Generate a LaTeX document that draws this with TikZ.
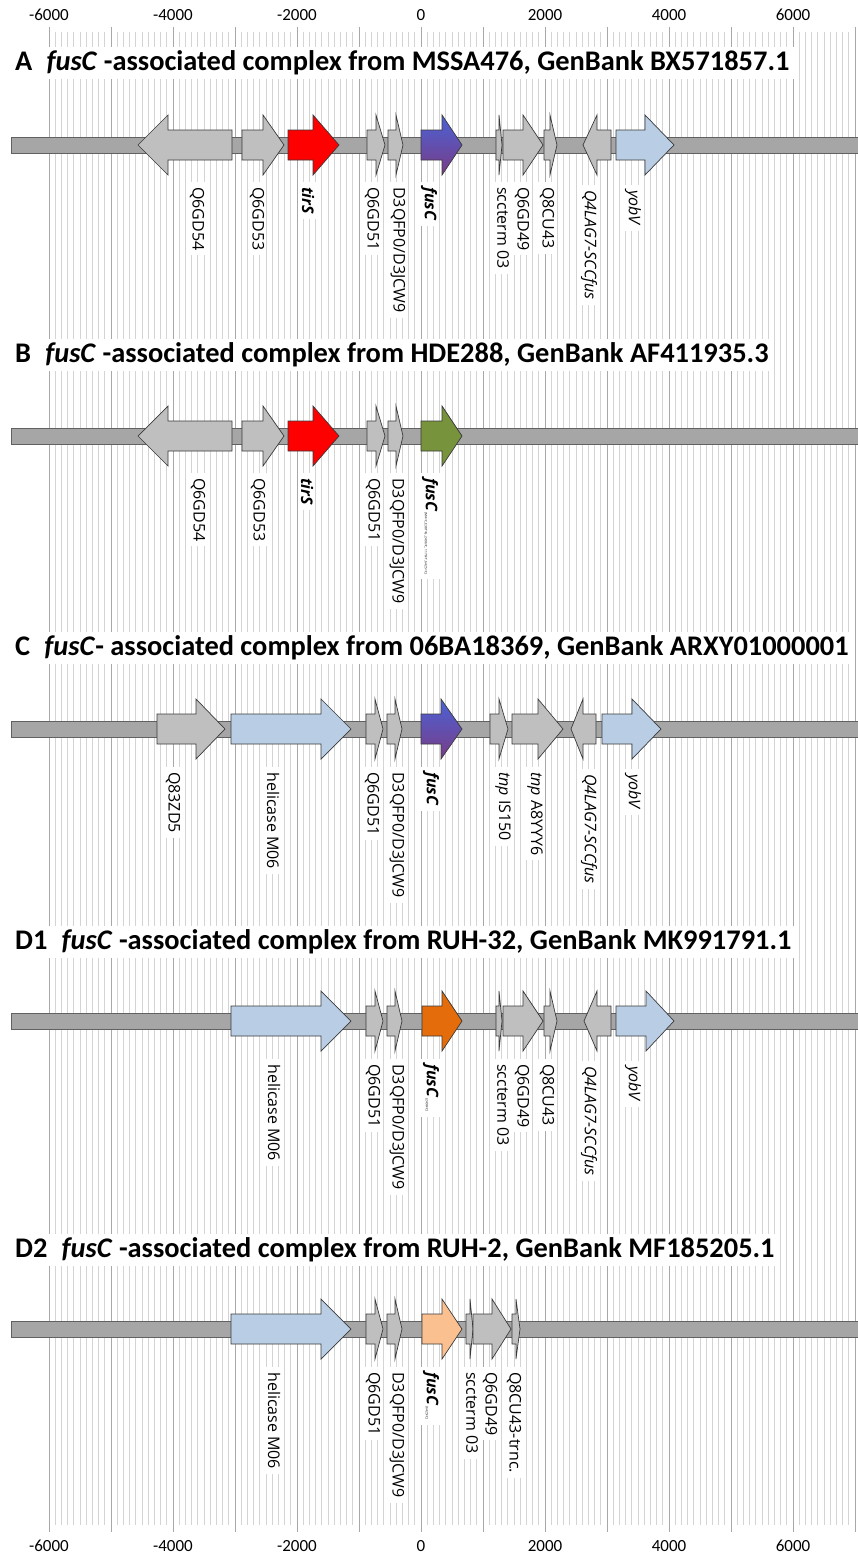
\documentclass[tikz,border=0pt]{standalone}
\usepackage{fontspec}
\setmainfont{Carlito}
\newfontfamily\labfont{Open Sans}
\definecolor{bargray}{HTML}{A6A6A6}
\definecolor{genegray}{HTML}{BFBFBF}
\definecolor{edgegray}{HTML}{3A3A3A}
\definecolor{lightblue}{HTML}{B9CDE5}
\definecolor{tirsred}{HTML}{FF0000}
\definecolor{fusblue}{HTML}{4A62D6}
\definecolor{fuspurple}{HTML}{7A3C86}
\definecolor{fusgreen}{HTML}{77933C}
\definecolor{fusorange}{HTML}{E46C0A}
\definecolor{fuspeach}{HTML}{FAC090}
\definecolor{minorgridc}{HTML}{D4D4D4}
\definecolor{majorgridc}{HTML}{A8A8A8}
\tikzset{
  minorgrid/.style={draw=minorgridc, line width=0.7pt},
  majorgrid/.style={draw=majorgridc, line width=0.8pt},
  genebox/.style={draw=edgegray, line width=0.7pt, line join=miter},
  barbox/.style={draw=edgegray!80, line width=0.7pt, fill=bargray},
  gg/.style={fill=genegray},
  lbl/.style={rotate=-90, anchor=west, fill=white, inner xsep=5pt, inner ysep=2pt, font=\labfont\fontsize{16}{19}\selectfont},
  ttl/.style={anchor=west, fill=white, inner xsep=5pt, inner ysep=4pt, font=\fontsize{28.4}{32}\selectfont\bfseries},
  axl/.style={font=\fontsize{17}{20}\selectfont, inner sep=0pt}
}
\newcount\labn
\newcommand\gR[5]{\draw[genebox,#5] (#1,#4-15) -- (#2,#4-15) -- (#2,#4-30) -- (#3,#4) -- (#2,#4+30) -- (#2,#4+15) -- (#1,#4+15) -- cycle;}
\newcommand\gL[5]{\draw[genebox,#5] (#3,#4-15) -- (#2,#4-15) -- (#2,#4-30) -- (#1,#4) -- (#2,#4+30) -- (#2,#4+15) -- (#3,#4+15) -- cycle;}
\newcommand\lab[3]{\global\advance\labn by 1 \node[lbl] (lab\the\labn) at (#1,#2) {#3};}
\newcommand\trackbar[2]{\draw[barbox] (11,#1-8) rectangle (862,#1+8); \coordinate (#2) at (11,#1);}
\newcommand\subnote[1]{\raisebox{-1pt}{\fontsize{3.2}{4}\selectfont\ #1}}
\begin{document}
\begin{tikzpicture}[x=1pt,y=-1pt]
\useasboundingbox (0,0) rectangle (857,1563);
\fill[white] (0,0) rectangle (857,1563);
% grid
\foreach \i in {-60,...,70}{
  \pgfmathsetmacro\xx{421+6.2*\i}
  \draw[minorgrid] (\xx,32) -- (\xx,1525);
}
\foreach \i in {-6,...,7}{
  \pgfmathsetmacro\xx{421+62*\i}
  \draw[majorgrid] (\xx,27) -- (\xx,1532);
}
% axis labels
\foreach \v/\i in {-6000/-6,-4000/-4,-2000/-2,0/0,2000/2,4000/4,6000/6}{
  \node[axl] (top\i) at (421+62*\i,15) {\v};
  \node[axl] (bot\i) at (421+62*\i,1546) {\v};
}
% titles
\node[ttl] (tA) at (10,63) {A\hspace{0.5em}\textit{fusC} -associated complex from MSSA476, GenBank BX571857.1};
\node[ttl] (tB) at (10,355) {B\hspace{0.5em}\textit{fusC} -associated complex from HDE288, GenBank AF411935.3};
\node[ttl] (tC) at (10,648) {C\hspace{0.5em}\textit{fusC}- associated complex from 06BA18369, GenBank ARXY01000001};
\node[ttl] (tD1) at (10,942) {D1\hspace{0.5em}\textit{fusC} -associated complex from RUH-32, GenBank MK991791.1};
\node[ttl] (tD2) at (10,1250) {D2\hspace{0.5em}\textit{fusC} -associated complex from RUH-2, GenBank MF185205.1};

% ---------- Track A ----------
\trackbar{145}{barA}
\gL{138}{168}{232}{145}{gg}
\gR{242}{263}{284}{145}{gg}
\gR{288}{313}{339}{145}{fill=tirsred}
\gR{367}{376}{385}{145}{gg}
\gR{388}{396}{403}{145}{gg}
\gR{421}{442}{462}{145}{top color=fusblue, bottom color=fuspurple}
\gR{496}{499}{502}{145}{gg}
\gR{503}{523}{543}{145}{gg}
\gR{544}{550}{557}{145}{gg}
\gL{583}{597}{611}{145}{gg}
\gR{616}{645}{674}{145}{fill=lightblue}
\lab{197}{182}{Q6GD54}
\lab{257}{182}{Q6GD53}
\lab{308}{182}{\textbf{\textit{tirS}}}
\lab{372}{182}{Q6GD51}
\lab{398}{182}{D3QFP0/D3JCW9}
\lab{429}{182}{\textbf{\textit{fusC}}}
\lab{503}{182}{sccterm 03}
\lab{522}{182}{Q6GD49}
\lab{547}{182}{Q8CU43}
\lab{589}{185}{\textit{Q4LAG7-SCCfus}}
\lab{633}{185}{\textit{yobV}}

% ---------- Track B ----------
\trackbar{436}{barB}
\gL{138}{168}{232}{436}{gg}
\gR{242}{263}{284}{436}{gg}
\gR{288}{313}{339}{436}{fill=tirsred}
\gR{367}{376}{385}{436}{gg}
\gR{388}{396}{403}{436}{gg}
\gR{421}{442}{462}{436}{fill=fusgreen}
\lab{198}{473}{Q6GD54}
\lab{258}{473}{Q6GD53}
\lab{307}{473}{\textbf{\textit{tirS}}}
\lab{373}{473}{Q6GD51}
\lab{397}{473}{D3QFP0/D3JCW9}
\lab{430}{473}{\textbf{\textit{fusC}}\subnote{(M4=C, E38T=G, 2496=C, 1176=T, 6425=C)}}

% ---------- Track C ----------
\trackbar{729}{barC}
\gR{157}{196}{225}{729}{gg}
\gR{231}{321}{351}{729}{fill=lightblue}
\gR{366}{375}{383}{729}{gg}
\gR{387}{395}{402}{729}{gg}
\gR{421}{441}{462}{729}{top color=fusblue, bottom color=fuspurple}
\gR{490}{499}{508}{729}{gg}
\gR{512}{538}{563}{729}{gg}
\gL{571}{583}{596}{729}{gg}
\gR{602}{632}{661}{729}{fill=lightblue}
\lab{173}{767}{Q83ZD5}
\lab{273}{767}{helicase M06}
\lab{372}{767}{Q6GD51}
\lab{397}{767}{D3QFP0/D3JCW9}
\lab{431}{767}{\textbf{\textit{fusC}}}
\lab{503}{767}{\textit{tnp} IS150}
\lab{535}{767}{\textit{tnp} A8YYY6}
\lab{589}{769}{\textit{Q4LAG7-SCCfus}}
\lab{633}{769}{\textit{yobV}}

% ---------- Track D1 ----------
\trackbar{1021}{barD1}
\gR{231}{321}{351}{1021}{fill=lightblue}
\gR{366}{375}{383}{1021}{gg}
\gR{387}{395}{402}{1021}{gg}
\gR{422}{442}{462}{1021}{fill=fusorange}
\gR{496}{499}{502}{1021}{gg}
\gR{503}{523}{543}{1021}{gg}
\gR{544}{550}{557}{1021}{gg}
\gL{584}{597}{611}{1021}{gg}
\gR{616}{646}{674}{1021}{fill=lightblue}
\lab{274}{1059}{helicase M06}
\lab{373}{1059}{Q6GD51}
\lab{397}{1059}{D3QFP0/D3JCW9}
\lab{431}{1059}{\textbf{\textit{fusC}}\subnote{(2496=C)}}
\lab{503}{1059}{sccterm 03}
\lab{522}{1059}{Q6GD49}
\lab{547}{1059}{Q8CU43}
\lab{589}{1061}{\textit{Q4LAG7-SCCfus}}
\lab{633}{1061}{\textit{yobV}}

% ---------- Track D2 ----------
\trackbar{1329}{barD2}
\gR{231}{321}{351}{1329}{fill=lightblue}
\gR{366}{375}{383}{1329}{gg}
\gR{387}{395}{402}{1329}{gg}
\gR{422}{442}{462}{1329}{fill=fuspeach}
\gR{466}{470}{473}{1329}{gg}
\gR{473}{492}{511}{1329}{gg}
\gR{512}{516}{520}{1329}{gg}
\lab{274}{1367}{helicase M06}
\lab{373}{1367}{Q6GD51}
\lab{397}{1367}{D3QFP0/D3JCW9}
\lab{431}{1367}{\textbf{\textit{fusC}}\subnote{(6425=C)}}
\lab{472}{1367}{sccterm 03}
\lab{490}{1367}{Q6GD49}
\lab{514}{1367}{Q8CU43-trnc.}
\end{tikzpicture}
\end{document}
